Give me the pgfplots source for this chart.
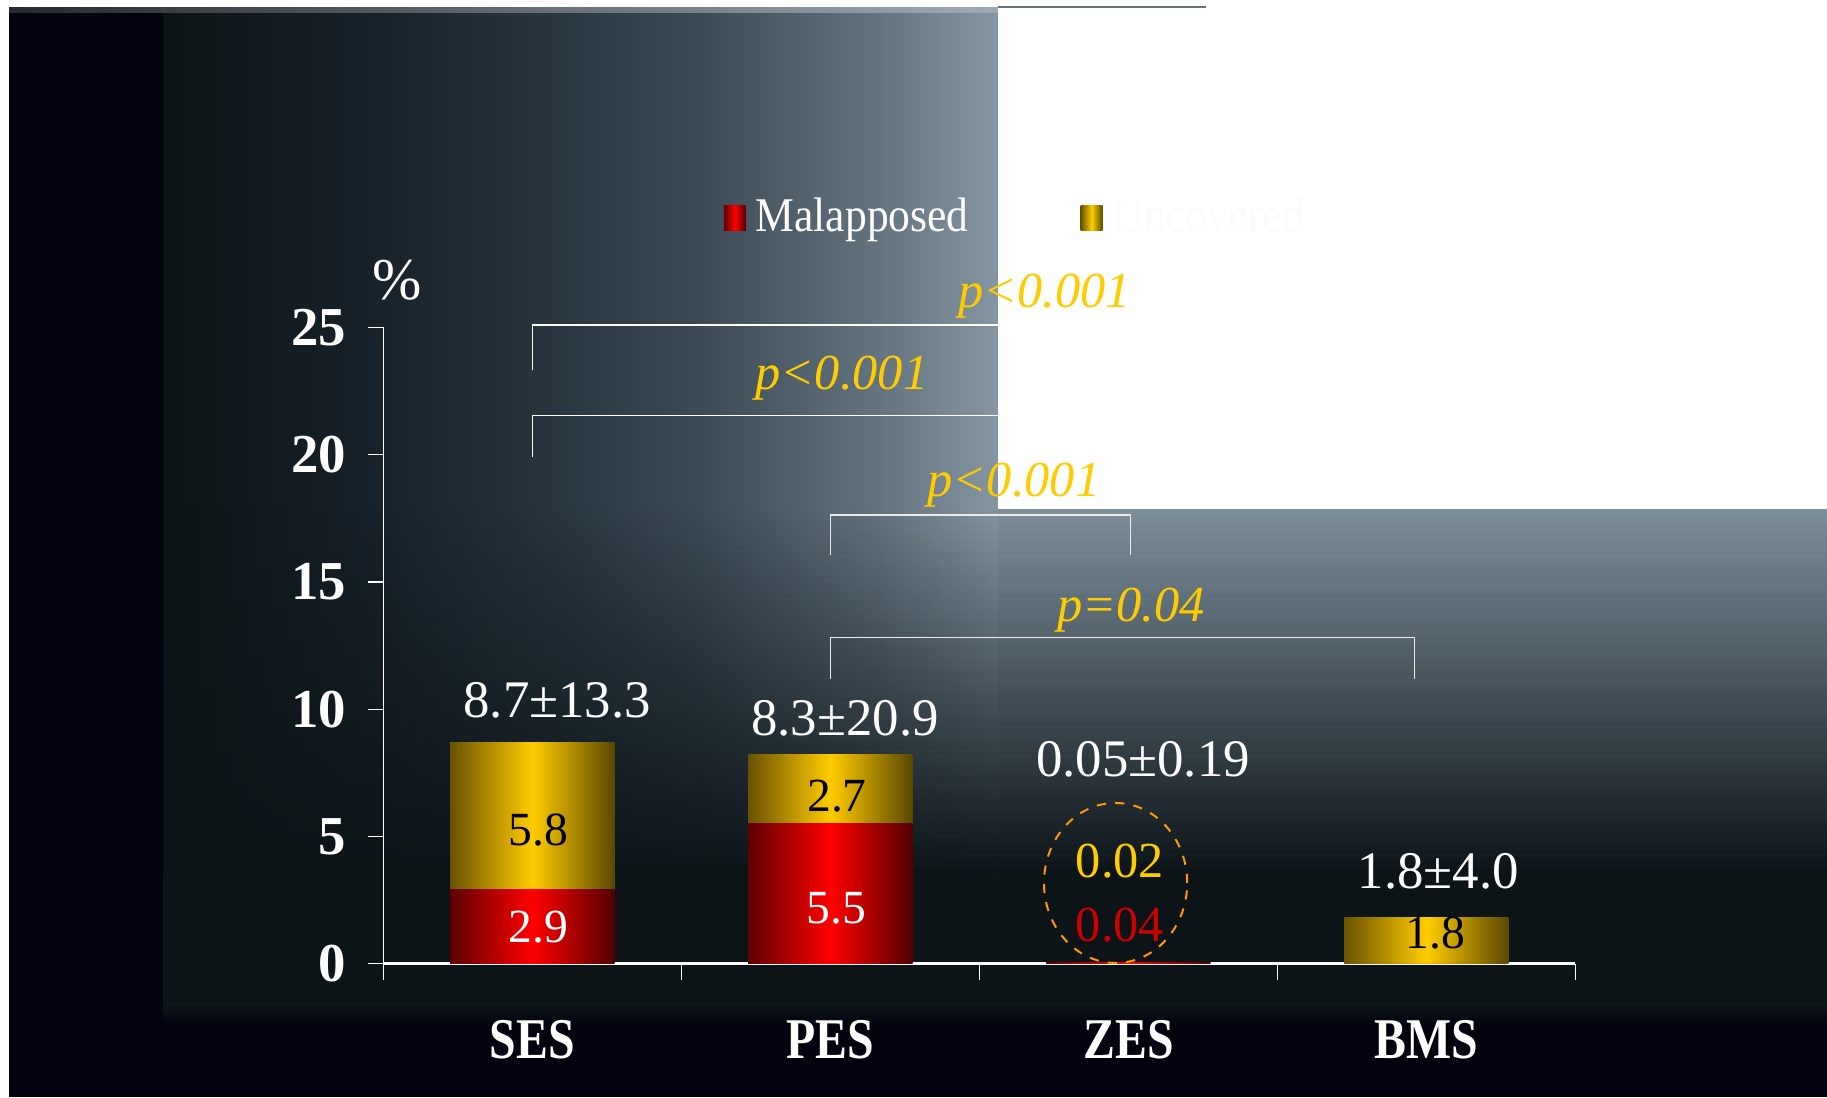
\documentclass[border=0pt]{standalone}
\usepackage{pgfplots}
\usepackage{pgfplotstable}
\pgfplotsset{compat=1.18}
\usepackage{fontspec}
\setmainfont{Liberation Serif}
\newfontfamily\catfont{Liberation Serif}[FakeStretch=0.83]
\newfontfamily\legfont{Liberation Serif}[FakeStretch=0.9]

\definecolor{bgblack}{HTML}{03030F}
\definecolor{bgdark}{HTML}{0C1418}
\definecolor{bgright}{HTML}{7D8F9B}
\definecolor{cA}{HTML}{0B1315}
\definecolor{cB}{HTML}{18222B}
\definecolor{cC}{HTML}{2B3943}
\definecolor{cD}{HTML}{3B4A55}
\definecolor{cE}{HTML}{62727E}
\definecolor{cF}{HTML}{8496A2}
\definecolor{pyellow}{HTML}{FFCC00}
\definecolor{zred}{HTML}{CC0000}
\definecolor{ringorange}{HTML}{FF9900}
\definecolor{redmid}{HTML}{FF0000}
\definecolor{redL}{HTML}{5E0000}
\definecolor{redR}{HTML}{520000}
\definecolor{yelmid}{HTML}{FFCC00}
\definecolor{yelL}{HTML}{6A5300}
\definecolor{yelR}{HTML}{5A4800}
\definecolor{legwhite}{HTML}{FBFBFB}
\pgfdeclarehorizontalshading{bgh}{100bp}{color(0bp)=(cA); color(25bp)=(cA); color(38bp)=(cB); color(50bp)=(cC); color(57bp)=(cD); color(67.5bp)=(cE); color(75bp)=(cF); color(100bp)=(cF)}

\pgfplotsset{
  redbar/.style={ybar, bar shift=0pt, bar width=41pt, draw=none, fill=redmid,
    left color=redL, right color=redR, middle color=redmid},
  yelbar/.style={ybar, bar shift=0pt, bar width=41pt, draw=none, fill=yelmid,
    left color=yelL, right color=yelR, middle color=yelmid},
}

% malapposed (lower segment) and uncovered (upper segment), %
\pgfplotstableread{
x   mal   unc
0   2.9   5.8
1   5.5   2.7
2   0.04  0.02
3   0     1.8
}\datatable

\begin{document}
\begin{tikzpicture}
% ---------- background (1px = 0.25pt) ----------
\path[use as bounding box] (0,0) rectangle (456.75pt,-274.25pt);
\begin{scope}[x=0.25pt,y=-0.25pt]
  \fill[white] (0,0) rectangle (1827,1097);
  \fill[bgblack] (9,7) rectangle (1827,1097);
  \shade[shading=bgh] (163,12) rectangle (998,1012);
  \fill[bgright] (998,12) rectangle (1827,1012);
  \foreach \i in {0,...,59}{
    \pgfmathsetmacro{\op}{(\i+0.5)/60}
    \pgfmathsetmacro{\ya}{509+\i*6.0834}
    \pgfmathsetmacro{\yb}{509+(\i+1)*6.0834}
    \fill[bgdark, opacity=\op] (163,\ya) rectangle (1827,\yb);
  }
  \fill[bgdark] (163,874) rectangle (1827,1006);
  \shade[top color=bgdark, bottom color=bgblack] (163,1005) rectangle (1827,1025);
  \fill[white] (998,0) rectangle (1827,509);
  \shade[left color=bgblack!70!gray, right color=cF!80!white] (9,7) rectangle (998,12);
  \fill[cE] (998,6) rectangle (1206,8);
\end{scope}

\begin{axis}[
  at={(95.85pt,-240.9pt)}, anchor=south west,
  scale only axis, width=298pt, height=159.05pt,
  xmin=-0.5, xmax=3.5, ymin=0, ymax=25,
  axis x line*=bottom, axis y line*=left,
  x axis line style={-, white, line width=0.75pt},
  y axis line style={-, white, line width=0.3pt},
  tick align=outside,
  xtick={0,1,2,3}, xticklabels={SES,PES,ZES,BMS},
  major x tick style={draw=none},
  minor xtick={-0.5,0.5,1.5,2.5,3.5},
  minor x tick style={white, line width=0.3pt},
  minor tick length=4.2pt,
  ytick={0,5,10,15,20,25},
  y tick style={white, line width=0.3pt},
  major tick length=3.8pt,
  /pgf/number format/assume math mode=true,
  yticklabel style={text=white, font=\bfseries\fontsize{13.7}{16}\selectfont, xshift=-2pt},
  xticklabel style={text=white, font=\catfont\bfseries\fontsize{14.4}{17}\selectfont, anchor=base, yshift=-20pt},
  ylabel={\%},
  every axis y label/.style={at={(axis description cs:0.0114,1.0745)}, anchor=center, text=white, font=\fontsize{14.8}{17}\selectfont},
  legend style={at={(0.2849,1.172)}, anchor=west, draw=none, fill=none, inner sep=0pt,
    legend columns=2, font=\legfont\fontsize{12.1}{14}\selectfont, text=white,
    /tikz/every even column/.append style={column sep=27pt},
    /tikz/every odd column/.append style={column sep=1.5pt},
    nodes={inner sep=1pt}},
  legend image code/.code={\path[#1] (0pt,-3pt) rectangle (5.5pt,3pt);},
  clip=false,
]
% stacked bars: full-height upper colour first, lower segment drawn over it
\addplot[yelbar, forget plot, restrict x to domain=-0.1:0.1] table[x=x, y expr=\thisrow{mal}+\thisrow{unc}]{\datatable};
\addplot[yelbar, forget plot, restrict x to domain=0.9:1.1] table[x=x, y expr=\thisrow{mal}+\thisrow{unc}]{\datatable};
\addplot[yelbar, forget plot, restrict x to domain=1.9:2.1] table[x=x, y expr=\thisrow{mal}+\thisrow{unc}]{\datatable};
\addplot[yelbar, forget plot, restrict x to domain=2.9:3.1] table[x=x, y expr=\thisrow{mal}+\thisrow{unc}]{\datatable};
\addplot[redbar, forget plot, restrict x to domain=-0.1:0.1] table[x=x, y=mal]{\datatable};
\addplot[redbar, forget plot, restrict x to domain=0.9:1.1] table[x=x, y=mal]{\datatable};
\addplot[redbar, forget plot, restrict x to domain=1.9:2.1] table[x=x, y=mal]{\datatable};
\addplot[redbar, forget plot, restrict x to domain=2.9:3.1] table[x=x, y=mal]{\datatable};
\addlegendimage{draw=none, fill=redmid, left color=redL, right color=redR, middle color=redmid}
\addlegendentry{Malapposed}
\addlegendimage{draw=none, fill=yelmid, left color=yelL, right color=yelR, middle color=yelmid}
\addlegendentry{\textcolor{legwhite}{Uncovered}}

% significance brackets
\draw[white, line width=0.35pt] (axis cs:0,23.31) |- (axis cs:3,25.09) -- (axis cs:3,23.31);
\draw[white, line width=0.35pt] (axis cs:0,19.92) |- (axis cs:2,21.53) -- (axis cs:2,19.92);
\draw[white!92!black, line width=0.35pt] (axis cs:1,16.07) |- (axis cs:2.007,17.63) -- (axis cs:2.007,16.07);
\draw[white!92!black, line width=0.35pt] (axis cs:1,11.18) |- (axis cs:2.96,12.82) -- (axis cs:2.96,11.18);
\node[anchor=base, text=pyellow, font=\itshape\fontsize{12.6}{15}\selectfont] at (axis cs:1.719,25.80) {p<0.001};
\node[anchor=base, text=pyellow, font=\itshape\fontsize{12.6}{15}\selectfont] at (axis cs:1.039,22.57) {p<0.001};
\node[anchor=base, text=pyellow, font=\itshape\fontsize{12.6}{15}\selectfont] at (axis cs:1.616,18.36) {p<0.001};
\node[anchor=base, text=pyellow, font=\itshape\fontsize{12.6}{15}\selectfont] at (axis cs:2.009,13.46) {p=0.04};

% totals
\node[anchor=base, text=white, font=\fontsize{13.2}{15}\selectfont] at (axis cs:0.083,9.69) {8.7±13.3};
\node[anchor=base, text=white, font=\fontsize{13.2}{15}\selectfont] at (axis cs:1.049,8.98) {8.3±20.9};
\node[anchor=base, text=white, font=\fontsize{13.2}{15}\selectfont] at (axis cs:2.049,7.34) {0.05±0.19};
\node[anchor=base, text=white, font=\fontsize{13.2}{15}\selectfont] at (axis cs:3.04,2.94) {1.8±4.0};

% segment values
\node[anchor=base, text=black, font=\fontsize{11.9}{14}\selectfont] at (axis cs:0.02,4.66) {5.8};
\node[anchor=base, text=white, font=\fontsize{11.9}{14}\selectfont] at (axis cs:0.02,0.82) {2.9};
\node[anchor=base, text=black, font=\fontsize{11.9}{14}\selectfont] at (axis cs:1.022,5.97) {2.7};
\node[anchor=base, text=white, font=\fontsize{11.9}{14}\selectfont] at (axis cs:1.02,1.59) {5.5};
\node[anchor=base, text=black, font=\fontsize{11.9}{14}\selectfont] at (axis cs:3.03,0.61) {1.8};
\node[anchor=base, text=pyellow, font=\fontsize{12.6}{15}\selectfont] at (axis cs:1.972,3.40) {0.02};
\node[anchor=base, text=zred, font=\fontsize{12.6}{15}\selectfont] at (axis cs:1.972,0.86) {0.04};
\draw[ringorange, line width=0.5pt, dash pattern=on 2.3pt off 2.3pt] (axis cs:1.957,3.17) ellipse [x radius=17.9pt, y radius=20pt];
\end{axis}
\end{tikzpicture}
\end{document}
